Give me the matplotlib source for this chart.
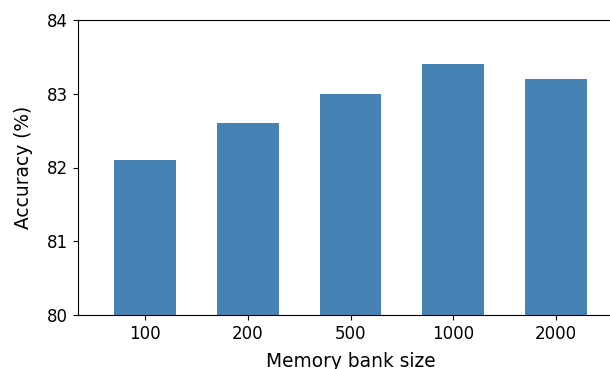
import numpy as np
import matplotlib.pyplot as plt

# Data
bank_sizes = ['100', '200', '500', '1000', '2000']
accuracy = [82.1, 82.6, 83.0, 83.4, 83.2]

fig = plt.figure(figsize=(6.1, 3.69), dpi=100)
# axes runs past the right edge of the image, as in the reference crop
ax = fig.add_axes([78 / 610, 54 / 369, 545 / 610, 295 / 369])

x = np.arange(len(bank_sizes))
ax.bar(x, accuracy, width=0.6, color='steelblue')

ax.set_xticks(x)
ax.set_xticklabels(bank_sizes, fontsize=12)
ax.set_xlim(-0.65, 4.65)
ax.set_ylim(80, 84)
ax.set_yticks([80, 81, 82, 83, 84])
ax.tick_params(axis='y', labelsize=12)
ax.set_xlabel('Memory bank size', fontsize=13.4, labelpad=7)
ax.set_ylabel('Accuracy (%)', fontsize=13.4, labelpad=10)

plt.savefig('out.png', dpi=100, facecolor='white')
plt.close()
